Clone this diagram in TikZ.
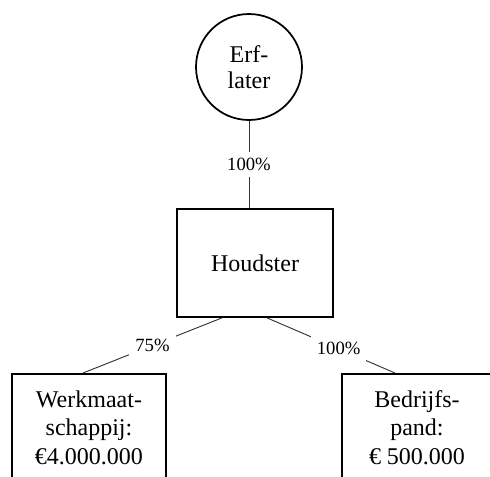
\documentclass[tikz,border=0pt]{standalone}
\usepackage{fontspec}
\setmainfont{Liberation Serif}
\usetikzlibrary{calc}

\tikzset{
  entity/.style={draw, line width=1.3pt, align=center, font=\fontsize{18}{21.4}\selectfont},
  owner/.style={draw, circle, line width=1.3pt, align=center, minimum size=79.5pt, inner sep=0pt, font=\fontsize{18}{19.5}\selectfont},
  share/.style={fill=white, inner sep=4.5pt, font=\fontsize{14}{16}\selectfont},
  link/.style={draw=black!80, line width=0.7pt}
}

\begin{document}
\begin{tikzpicture}[x=0.75pt,y=-0.75pt]
\useasboundingbox (0,0) rectangle (490,476);
\clip (0,0) rectangle (490,476);
% persons and companies
\node[owner] (erflater) at (249,67) {Erf-\\later};
\node[entity, minimum width=117pt, minimum height=81pt] (houdster) at (255,263) {Houdster};
\node[entity, anchor=north, minimum width=115.5pt, inner ysep=12.5pt, text depth=30pt] (werkmaat) at (89,373) {Werkmaat-\\schappij:\\€4.000.000};
\node[entity, anchor=north, minimum width=112.5pt, inner ysep=12.5pt, text depth=30pt] (pand) at (417,373) {Bedrijfs-\\pand:\\€ 500.000};
% shares
\draw[link] (erflater.south) -- node[share] (p1) {100\%} (erflater.south |- houdster.north);
\draw[link] ($(houdster.south)+(-33,0)$) -- node[share] (p2) {75\%} ($(werkmaat.north)+(-6,0)$);
\draw[link] ($(houdster.south)+(12,0)$) -- node[share, pos=0.56] (p3) {100\%} ($(pand.north)+(-22,0)$);
\end{tikzpicture}
\end{document}
